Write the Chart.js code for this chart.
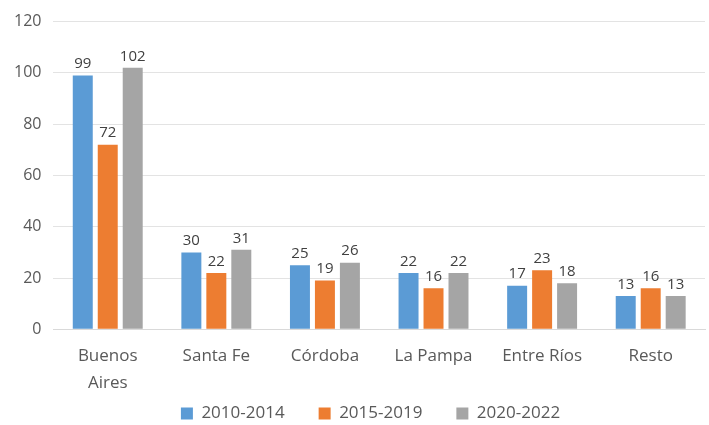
<!DOCTYPE html>
<html>
<head>
<meta charset="utf-8">
<script src="https://cdn.jsdelivr.net/npm/chart.js@4/dist/chart.umd.min.js"></script>
<style>
  html, body { margin: 0; padding: 0; background: #fff; }
  #myChart { display: block; }
</style>
</head>
<body>
<canvas id="myChart" width="709" height="425"></canvas>
<script>
const categories = [["Buenos", "Aires"], "Santa Fe", "Córdoba", "La Pampa", "Entre Ríos", "Resto"];
const series2010 = [99, 30, 25, 22, 17, 13];
const series2015 = [72, 22, 19, 16, 23, 16];
const series2020 = [102, 31, 26, 22, 18, 13];
const yTicks = [0, 20, 40, 60, 80, 100, 120];

const fontFamily = "'Open Sans', 'Liberation Sans', sans-serif";

// draws the value above each bar
const barLabels = {
  id: "barLabels",
  afterDatasetsDraw(chart) {
    const c = chart.ctx;
    c.save();
    c.font = "15px " + fontFamily;
    c.fillStyle = "#404040";
    c.textAlign = "center";
    c.textBaseline = "bottom";
    chart.data.datasets.forEach((ds, i) => {
      chart.getDatasetMeta(i).data.forEach((bar, j) => {
        c.fillText(ds.data[j], bar.x, bar.y - 4);
      });
    });
    c.restore();
  }
};

// keep the legend short so the plot gets the height, then move it into place
const legendSpace = {
  id: "legendSpace",
  beforeInit(chart) {
    const fit = chart.legend.fit;
    chart.legend.fit = function () {
      fit.bind(chart.legend)();
      this.height = 23;
    };
  },
  afterLayout(chart) {
    chart.legend.top = 371;
    chart.legend.left += 17;
    chart.legend.right += 17;
  }
};

let ctx = document.getElementById("myChart").getContext("2d");
let chart = new Chart(ctx, {
  type: "bar",
  data: {
    labels: categories,
    datasets: [
      { label: "2010-2014", backgroundColor: "#5B9BD5", data: series2010 },
      { label: "2015-2019", backgroundColor: "#ED7D31", data: series2015 },
      { label: "2020-2022", backgroundColor: "#A5A5A5", data: series2020 }
    ]
  },
  options: {
    responsive: false,
    animation: false,
    categoryPercentage: 0.69,
    barPercentage: 0.8,
    layout: { padding: { top: 8, right: 4, left: 2, bottom: 0 } },
    plugins: {
      tooltip: { enabled: false },
      legend: {
        position: "bottom",
        labels: {
          font: { family: fontFamily, size: 17 },
          color: "#595959",
          boxWidth: 12,
          boxHeight: 12,
          padding: 34
        }
      }
    },
    scales: {
      x: {
        grid: { display: false },
        border: { color: "#d9d9d9" },
        ticks: {
          font: { family: fontFamily, size: 17, lineHeight: 1.55 },
          color: "#595959",
          padding: 6,
          maxRotation: 0
        }
      },
      y: {
        min: 0,
        max: 120,
        afterBuildTicks: axis => { axis.ticks = yTicks.map(v => ({ value: v })); },
        grid: { color: "#e3e3e3", drawTicks: false },
        border: { display: false },
        ticks: {
          font: { family: fontFamily, size: 16 },
          color: "#595959",
          padding: 12
        }
      }
    }
  },
  plugins: [barLabels, legendSpace]
});
</script>
</body>
</html>
